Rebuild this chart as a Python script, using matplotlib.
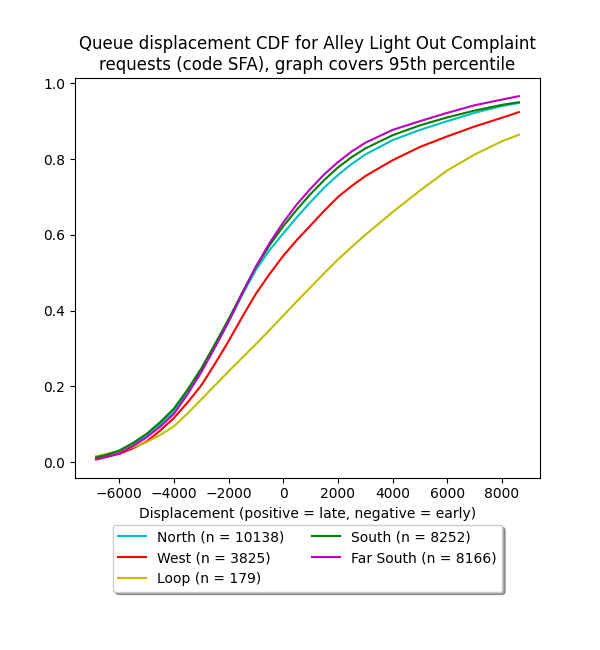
import matplotlib
matplotlib.use("Agg")
import matplotlib.pyplot as plt

# displacement grid (x) and CDF values
displacement = [-6850, -6500, -6000, -5500, -5000, -4500, -4000, -3500, -3000,
                -2500, -2000, -1500, -1000, -500, 0, 500, 1000, 1500, 2000,
                2500, 3000, 4000, 5000, 6000, 7000, 8000, 8620]

north = [0.010, 0.016, 0.028, 0.047, 0.070, 0.100, 0.135, 0.185, 0.243,
         0.305, 0.370, 0.442, 0.508, 0.560, 0.604, 0.647, 0.687, 0.725, 0.758,
         0.787, 0.812, 0.850, 0.877, 0.900, 0.922, 0.940, 0.948]
west = [0.009, 0.014, 0.022, 0.037, 0.055, 0.084, 0.117, 0.158, 0.203,
        0.260, 0.320, 0.384, 0.445, 0.497, 0.545, 0.587, 0.625, 0.664, 0.700,
        0.729, 0.755, 0.797, 0.832, 0.860, 0.886, 0.909, 0.924]
loop = [0.016, 0.021, 0.030, 0.040, 0.053, 0.072, 0.095, 0.129, 0.166,
        0.203, 0.240, 0.276, 0.312, 0.349, 0.387, 0.425, 0.462, 0.499, 0.535,
        0.568, 0.600, 0.660, 0.717, 0.770, 0.812, 0.847, 0.864]
south = [0.013, 0.019, 0.031, 0.051, 0.075, 0.106, 0.142, 0.192, 0.248,
         0.312, 0.378, 0.448, 0.515, 0.573, 0.623, 0.667, 0.708, 0.745, 0.778,
         0.805, 0.828, 0.863, 0.889, 0.910, 0.928, 0.943, 0.950]
far_south = [0.007, 0.013, 0.024, 0.043, 0.066, 0.094, 0.128, 0.180, 0.238,
             0.303, 0.372, 0.446, 0.517, 0.579, 0.633, 0.681, 0.722, 0.760, 0.792,
             0.820, 0.843, 0.877, 0.900, 0.922, 0.942, 0.957, 0.966]

series = [
    ("North (n = 10138)", north, "c"),
    ("West (n = 3825)", west, "r"),
    ("Loop (n = 179)", loop, "y"),
    ("South (n = 8252)", south, "g"),
    ("Far South (n = 8166)", far_south, "m"),
]

fig, ax = plt.subplots(figsize=(6, 6.5), dpi=100)
fig.subplots_adjust(bottom=0.265)

for label, vals, color in series:
    ax.plot(displacement, vals, color=color, label=label)

ax.set_title("Queue displacement CDF for Alley Light Out Complaint\n"
             "requests (code SFA), graph covers 95th percentile")
ax.set_xlabel("Displacement (positive = late, negative = early)")
ax.legend(loc="upper center", bbox_to_anchor=(0.5, -0.10), ncol=2, shadow=True)

fig.savefig("out.png", dpi=100)
